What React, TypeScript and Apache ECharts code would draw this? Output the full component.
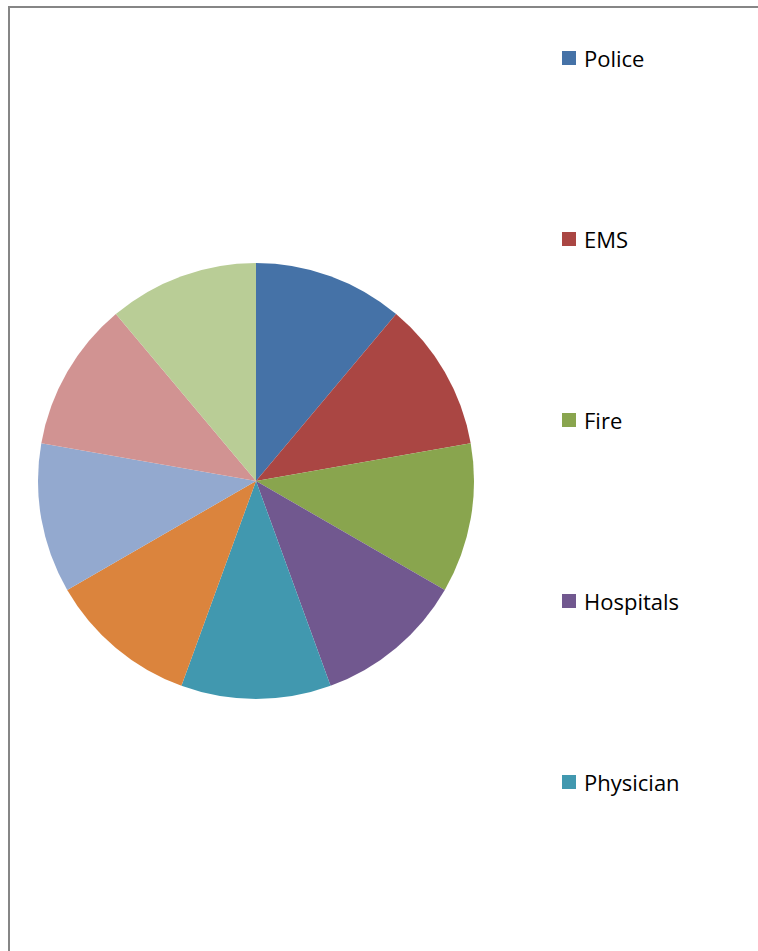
import React, { useEffect, useRef } from "react";
import * as echarts from "echarts";

const sliceNames = ["Police", "EMS", "Fire", "Hospitals", "Physician", "Other 6", "Other 7", "Other 8", "Other 9"];
const sliceValues = [1, 1, 1, 1, 1, 1, 1, 1, 1];
const sliceColors = ["#4572A7", "#AA4643", "#89A54E", "#71588F", "#4198AF", "#DB843D", "#93A9CF", "#D19392", "#B9CD96"];
const legendNames = ["Police", "EMS", "Fire", "Hospitals", "Physician"];

export default function App() {
  const ref = useRef<HTMLDivElement>(null);
  useEffect(() => {
    if (!ref.current) return;
    const chart = echarts.init(ref.current, null, { renderer: "svg" });
    chart.setOption({
      animation: false,
      backgroundColor: "#ffffff",
      color: sliceColors,
      graphic: [
        {
          type: "rect",
          shape: { x: 9, y: 7, width: 800, height: 1000 },
          style: { fill: "none", stroke: "#868686", lineWidth: 2 },
          silent: true,
        },
      ],
      legend: {
        orient: "vertical",
        left: 557,
        top: 42,
        itemWidth: 14,
        itemHeight: 14,
        itemGap: 159,
        icon: "rect",
        data: legendNames,
        textStyle: { fontFamily: "Open Sans", fontSize: 22, color: "#000", lineHeight: 20, padding: [0, 0, 0, 3] },
      },
      series: [
        {
          type: "pie",
          center: [256, 481],
          radius: 218,
          startAngle: 90,
          clockwise: true,
          label: { show: false },
          labelLine: { show: false },
          itemStyle: { borderWidth: 0 },
          emphasis: { disabled: true },
          data: sliceNames.map((n, i) => ({ name: n, value: sliceValues[i] })),
        },
      ],
    });
    return () => chart.dispose();
  }, []);
  return <div ref={ref} style={{ position: "absolute", left: 0, top: 0, width: 758, height: 951 }} />;
}
